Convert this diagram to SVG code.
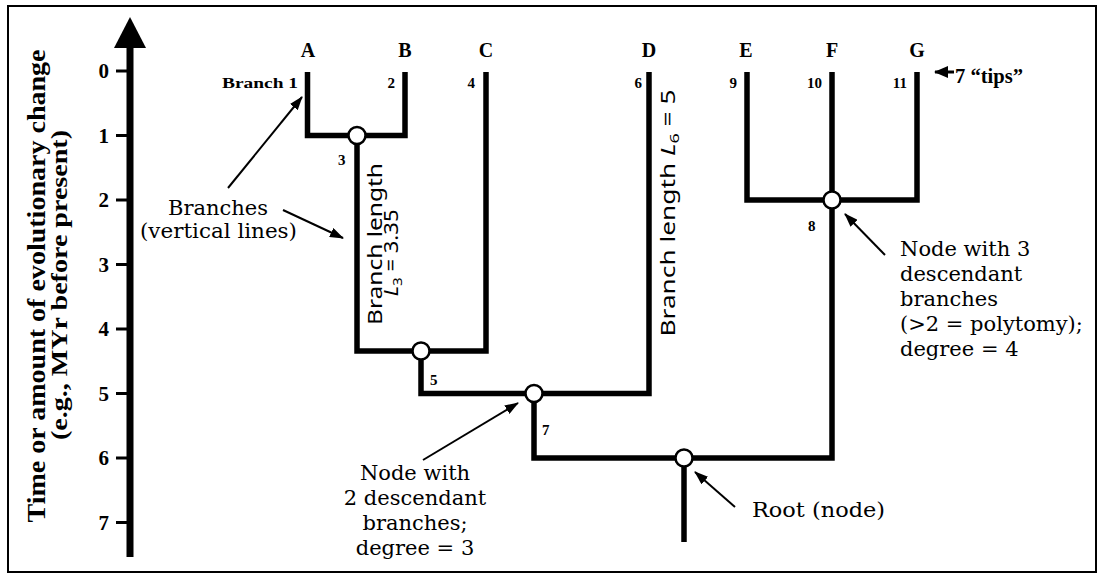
<svg xmlns="http://www.w3.org/2000/svg" width="1103" height="578" viewBox="0 0 1103 578">
<defs>
<marker id="ah" markerUnits="userSpaceOnUse" markerWidth="14" markerHeight="10" refX="13" refY="5" orient="auto"><path d="M0,0 L14,5 L0,10 z" fill="#000"/></marker>
<marker id="ah2" markerUnits="userSpaceOnUse" markerWidth="14" markerHeight="12" refX="13" refY="6" orient="auto"><path d="M0,0 L14,6 L0,12 z" fill="#000"/></marker>
</defs>
<style>
.br{fill:none;stroke:#000;stroke-width:5.5;stroke-linejoin:miter;stroke-linecap:butt}
.nd{fill:#fff;stroke:#000;stroke-width:2.5}
.tick{font-family:"Liberation Serif",serif;font-weight:bold;font-size:21px;text-anchor:end}
.tip{font-family:"Liberation Serif",serif;font-weight:bold;font-size:20px;text-anchor:middle}
.tips{font-family:"Liberation Serif",serif;font-weight:bold;font-size:20px}
.num{font-family:"Liberation Serif",serif;font-weight:bold;font-size:15px}
.lab{font-family:"DejaVu Serif",serif;font-size:21px}
.ann{stroke:#000;stroke-width:2;marker-end:url(#ah)}
.sans{font-family:"Noto Sans","DejaVu Sans",sans-serif;font-size:19px}
.ax{font-family:"Liberation Serif",serif;font-weight:bold;text-anchor:middle}
</style>
<rect x="0" y="0" width="1103" height="578" fill="#fff"/>
<rect x="8" y="6" width="1088" height="566" fill="none" stroke="#000" stroke-width="2"/>

<g id="axis">
<line x1="130" y1="45" x2="130" y2="557" stroke="#000" stroke-width="7"/>
<polygon points="130,17 146,48 114,48" fill="#000"/>
<g stroke="#000" stroke-width="3">
<line x1="116" y1="71" x2="130" y2="71"/>
<line x1="116" y1="135.5" x2="130" y2="135.5"/>
<line x1="116" y1="200" x2="130" y2="200"/>
<line x1="116" y1="264.5" x2="130" y2="264.5"/>
<line x1="116" y1="329" x2="130" y2="329"/>
<line x1="116" y1="393.5" x2="130" y2="393.5"/>
<line x1="116" y1="458" x2="130" y2="458"/>
<line x1="116" y1="522.5" x2="130" y2="522.5"/>
</g>
<text class="tick" x="109" y="78">0</text>
<text class="tick" x="109" y="142.5">1</text>
<text class="tick" x="109" y="207">2</text>
<text class="tick" x="109" y="271.5">3</text>
<text class="tick" x="109" y="336">4</text>
<text class="tick" x="109" y="400.5">5</text>
<text class="tick" x="109" y="465">6</text>
<text class="tick" x="109" y="529.5">7</text>
<text class="ax" font-size="26" transform="translate(45,286) rotate(-90)" textLength="473" lengthAdjust="spacingAndGlyphs">Time or amount of evolutionary change</text>
<text class="ax" font-size="23" transform="translate(67,285) rotate(-90)" textLength="310" lengthAdjust="spacingAndGlyphs">(e.g., MYr before present)</text>
</g>

<g id="connectors">
<path class="br" d="M307.5 72 V135.5 H405 V72"/>
<path class="br" d="M357 135.5 V351 H486 V72"/>
<path class="br" d="M421 351 V393.5 H649 V72"/>
<path class="br" d="M534 393.5 V458 H832 V72"/>
<path class="br" d="M747 72 V200 H917 V72"/>
<path class="br" d="M684 458 V542"/>
</g>

<g id="tipA"><text class="tip" x="308" y="57">A</text><text class="num" x="298" y="88" text-anchor="end" textLength="76" lengthAdjust="spacingAndGlyphs">Branch 1</text></g>
<g id="tipB"><text class="tip" x="405" y="57">B</text><text class="num" x="395" y="88" text-anchor="end">2</text></g>
<g id="tipC"><text class="tip" x="486" y="57">C</text><text class="num" x="475" y="88" text-anchor="end">4</text></g>
<g id="tipD"><text class="tip" x="649" y="57">D</text><text class="num" x="642" y="88" text-anchor="end">6</text></g>
<g id="tipE"><text class="tip" x="746" y="57">E</text><text class="num" x="737" y="88" text-anchor="end">9</text></g>
<g id="tipF"><text class="tip" x="832" y="57">F</text><text class="num" x="822" y="88" text-anchor="end">10</text></g>
<g id="tipG"><text class="tip" x="917" y="57">G</text><text class="num" x="907" y="88" text-anchor="end">11</text></g>

<g id="node3"><circle class="nd" cx="357" cy="135.5" r="8.5"/><text class="num" x="338" y="165">3</text></g>
<g id="node5"><circle class="nd" cx="421" cy="351" r="8.5"/><text class="num" x="430" y="385">5</text></g>
<g id="node7"><circle class="nd" cx="534" cy="393.5" r="8.5"/><text class="num" x="542" y="435">7</text></g>
<g id="node8"><circle class="nd" cx="832" cy="200" r="8.5"/><text class="num" x="808" y="231">8</text></g>
<g id="root"><circle class="nd" cx="684" cy="458" r="8.5"/></g>

<g id="annotations">
<line class="ann" x1="228" y1="188" x2="302" y2="97"/>
<line class="ann" x1="283" y1="210" x2="343" y2="238"/>
<line class="ann" x1="423" y1="460" x2="518" y2="403"/>
<line class="ann" x1="735" y1="507" x2="695" y2="472"/>
<line class="ann" x1="885" y1="255" x2="845" y2="214"/>
<line x1="954" y1="72" x2="935" y2="72" stroke="#000" stroke-width="3" marker-end="url(#ah2)"/>
<text class="lab" font-size="20" x="168" y="215" textLength="100" lengthAdjust="spacingAndGlyphs">Branches</text>
<text class="lab" font-size="20" x="140" y="238" textLength="157" lengthAdjust="spacingAndGlyphs">(vertical lines)</text>
<text class="sans" transform="translate(382,244) rotate(-90)" text-anchor="middle" textLength="162" lengthAdjust="spacingAndGlyphs">Branch length</text>
<text class="sans" transform="translate(398,253) rotate(-90)" text-anchor="middle" textLength="87" lengthAdjust="spacingAndGlyphs"><tspan font-style="italic">L</tspan><tspan font-size="13" dy="4">3</tspan><tspan dy="-4"> = 3.35</tspan></text>
<text class="sans" transform="translate(675,213) rotate(-90)" text-anchor="middle" textLength="247" lengthAdjust="spacingAndGlyphs">Branch length <tspan font-style="italic">L</tspan><tspan font-size="13" dy="4">6</tspan><tspan dy="-4"> = 5</tspan></text>
<g class="lab" font-size="22" text-anchor="middle">
<text x="415" y="480">Node with</text>
<text x="415" y="505">2 descendant</text>
<text x="415" y="530">branches;</text>
<text x="415" y="555">degree = 3</text>
</g>
<g class="lab" font-size="22">
<text x="900" y="256">Node with 3</text>
<text x="900" y="281">descendant</text>
<text x="900" y="306">branches</text>
<text x="900" y="331">(&gt;2 = polytomy);</text>
<text x="900" y="356">degree = 4</text>
</g>
<text class="lab" x="752" y="517" textLength="133" lengthAdjust="spacingAndGlyphs">Root (node)</text>
<text class="tips" x="955" y="83" textLength="68" lengthAdjust="spacingAndGlyphs">7 “tips”</text>
</g>
</svg>
